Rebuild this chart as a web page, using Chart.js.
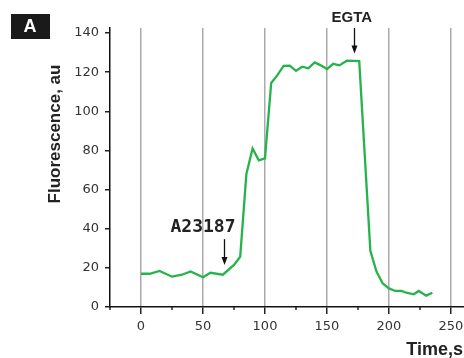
<!DOCTYPE html>
<html>
<head>
<meta charset="utf-8">
<script src="https://cdn.jsdelivr.net/npm/chart.js@4"></script>
<style>
    html, body { margin: 0; padding: 0; background: #fff; }
    #wrap { width: 464px; height: 358px; }
</style>
</head>
<body>
<div id="wrap"><canvas id="chart1" width="464" height="358"></canvas></div>
<script>
// data
let times = [0, 7, 15, 25, 33, 40, 50, 56, 66, 75, 80, 85, 90, 95, 100, 105, 110, 115, 120, 125,
    130, 135, 140, 145, 150, 155, 160, 166, 176, 185, 190, 195, 200, 205, 210, 214, 220, 224, 230, 235];
let fluo = [17, 17, 18.4, 15.5, 16.5, 18.2, 15.2, 17.5, 16.5, 21.5, 25.7, 68, 81, 75, 76, 114.5, 118.5, 123.3, 123.4, 120.7,
    122.8, 122, 125, 123.5, 121.6, 124.3, 123.5, 125.9, 125.7, 28.6, 18, 12, 9.5, 8.2, 8.2, 7.3, 6.5, 8.2, 5.8, 7.3];
let xTicks = [0, 50, 100, 150, 200, 250];
let xMinor = [-25, 25, 75, 125, 175, 225];
let yTicks = [0, 20, 40, 60, 80, 100, 120, 140];
let notes = [
    { text: "A23187", t: 67, from: 34.7, to: 21.5, font: "bold 18px 'DejaVu Sans Mono'", tx: 50, ty: 38.5 },
    { text: "EGTA", t: 172, from: 142.6, to: 129.6, font: "bold 15px 'Liberation Sans'", tx: 170, ty: 145.5 }
];

let points = times.map((t, i) => ({ x: t, y: fluo[i] }));

let extras = {
    id: "extras",
    afterDraw(chart) {
        let c = chart.ctx;
        let xs = chart.scales.x, ys = chart.scales.y;
        let bottom = chart.chartArea.bottom;
        c.save();

        // minor x ticks
        c.strokeStyle = "#222";
        c.lineWidth = 1.5;
        xMinor.forEach(v => {
            let px = Math.round(xs.getPixelForValue(v));
            c.beginPath();
            c.moveTo(px, bottom);
            c.lineTo(px, bottom + 3);
            c.stroke();
        });

        // annotations with arrows
        notes.forEach(n => {
            let px = Math.round(xs.getPixelForValue(n.t)) + 0.5;
            let y1 = ys.getPixelForValue(n.from);
            let y2 = ys.getPixelForValue(n.to);
            c.strokeStyle = "#111";
            c.fillStyle = "#111";
            c.lineWidth = 1.3;
            c.beginPath();
            c.moveTo(px, y1);
            c.lineTo(px, y2 - 6);
            c.stroke();
            c.beginPath();
            c.moveTo(px - 3, y2 - 8);
            c.lineTo(px + 3, y2 - 8);
            c.lineTo(px, y2);
            c.closePath();
            c.fill();

            c.font = n.font;
            c.fillStyle = "#222";
            c.textAlign = "center";
            c.textBaseline = "alphabetic";
            c.fillText(n.text, xs.getPixelForValue(n.tx), ys.getPixelForValue(n.ty));
        });

        // axis titles
        c.fillStyle = "#222";
        c.font = "bold 17px 'Liberation Sans'";
        c.textAlign = "center";
        c.textBaseline = "middle";
        c.save();
        c.translate(55, 134);
        c.rotate(-Math.PI / 2);
        c.fillText("Fluorescence, au", 0, 0);
        c.restore();

        c.font = "bold 18px 'Liberation Sans'";
        c.textAlign = "right";
        c.fillText("Time,s", 463, 350);

        // panel label
        c.fillStyle = "#1a1a1a";
        c.fillRect(11, 14, 39, 25);
        c.fillStyle = "#fff";
        c.font = "bold 18px 'Liberation Sans'";
        c.textAlign = "center";
        c.fillText("A", 30, 27);

        c.restore();
    }
};

new Chart(document.getElementById("chart1"), {
    type: "line",
    data: {
        datasets: [{
            data: points,
            borderColor: "#27b34b",
            borderWidth: 2.3,
            pointRadius: 0,
            tension: 0,
            fill: false
        }]
    },
    options: {
        responsive: false,
        animation: false,
        layout: { padding: { top: 28, right: 0, left: 0, bottom: 0 } },
        plugins: {
            legend: { display: false },
            tooltip: { enabled: false }
        },
        scales: {
            x: {
                type: "linear",
                min: -25,
                max: 260.5,
                afterBuildTicks: function(s) { s.ticks = xTicks.map(v => ({ value: v })); },
                afterFit: function(s) { s.height = 51; s.paddingLeft = 0; s.paddingRight = 0; },
                ticks: {
                    autoSkip: false,
                    maxRotation: 0,
                    padding: 5,
                    color: "#333",
                    font: { family: "DejaVu Sans", size: 13 }
                },
                grid: {
                    color: "#aaa",
                    tickColor: "#222",
                    lineWidth: 1.5,
                    tickLength: 7
                },
                border: { color: "#111", width: 1.5 }
            },
            y: {
                min: 0,
                max: 142.6,
                afterBuildTicks: function(s) { s.ticks = yTicks.map(v => ({ value: v })); },
                afterFit: function(s) { s.width = 110; s.paddingTop = 0; s.paddingBottom = 0; },
                ticks: {
                    autoSkip: false,
                    padding: 6,
                    color: "#333",
                    font: { family: "DejaVu Sans", size: 13 }
                },
                grid: {
                    drawOnChartArea: false,
                    tickColor: "#222",
                    lineWidth: 1.5,
                    tickLength: 5
                },
                border: { color: "#111", width: 1.5 }
            }
        }
    },
    plugins: [extras]
});
</script>
</body>
</html>
